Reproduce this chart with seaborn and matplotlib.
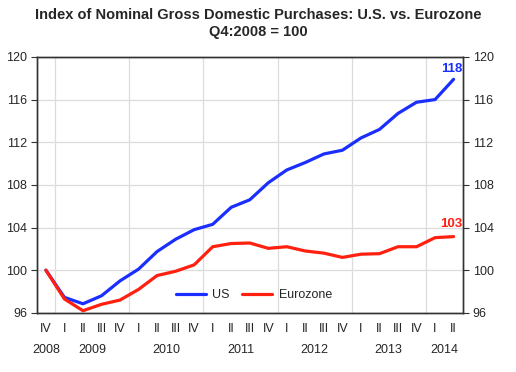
import numpy as np
import pandas as pd
import matplotlib
matplotlib.use("Agg")
import matplotlib.pyplot as plt
import seaborn as sns

# Datos (Q4:2008 = 100)
quarters = ["IV",
            "I", "II", "III", "IV",
            "I", "II", "III", "IV",
            "I", "II", "III", "IV",
            "I", "II", "III", "IV",
            "I", "II", "III", "IV",
            "I", "II"]
years = ["2008", "2009", "2010", "2011", "2012", "2013", "2014"]
year_pos = [0, 2.5, 6.5, 10.5, 14.5, 18.5, 21.5]

us = [100.0, 97.45, 96.85, 97.6, 99.0, 100.1, 101.75, 102.9, 103.8, 104.3, 105.9, 106.6,
      108.2, 109.4, 110.1, 110.9, 111.25, 112.4, 113.2, 114.7, 115.75, 116.0, 117.9]
eurozone = [100.0, 97.3, 96.2, 96.8, 97.2, 98.2, 99.5, 99.9, 100.5, 102.2, 102.5, 102.55,
            102.05, 102.2, 101.8, 101.6, 101.2, 101.5, 101.55, 102.2, 102.2, 103.05, 103.15]

df = pd.DataFrame({"t": np.arange(len(quarters)), "US": us, "Eurozone": eurozone})
long = df.melt(id_vars="t", var_name="serie", value_name="valor")

sns.set_style("white")
plt.rcParams["font.family"] = ["Liberation Sans", "DejaVu Sans"]

fig = plt.figure(figsize=(5.16, 3.72), dpi=100)
ax = fig.add_axes([0.071, 0.159, 0.826, 0.688])

sns.lineplot(data=long, x="t", y="valor", hue="serie",
             palette={"US": "#1a2eff", "Eurozone": "#ff2010"},
             linewidth=2.3, ax=ax)

ax.set_xlim(-0.5, 22.5)
ax.set_ylim(96, 120)
ax.set_yticks([96, 100, 104, 108, 112, 116, 120])
ax.set_xlabel("")
ax.set_ylabel("")

# Rejilla
ax.yaxis.grid(True, color="#dcdcdc", linewidth=0.9)
for x in [0.5, 4.5, 8.5, 12.5, 16.5, 20.5]:
    ax.axvline(x, color="#dcdcdc", linewidth=0.9, zorder=0)

# Ejes X: trimestres y años
ax.set_xticks(range(len(quarters)))
ax.set_xticklabels(quarters, fontsize=9)
ax.set_xticks(np.arange(-0.5, 23, 1), minor=True)
ax.tick_params(axis="x", which="major", length=0, pad=7)
ax.tick_params(axis="x", which="minor", length=4, direction="out", color="#333333")
for pos, yr in zip(year_pos, years):
    ax.text(pos, -0.145, yr, transform=ax.get_xaxis_transform(),
            ha="center", va="center", fontsize=9)

ax.tick_params(axis="y", which="major", length=4, direction="out", labelsize=9,
               left=True, color="#333333", pad=3)

ax2 = ax.twinx()
ax2.set_ylim(96, 120)
ax2.set_yticks([96, 100, 104, 108, 112, 116, 120])
ax2.tick_params(axis="y", length=4, direction="out", labelsize=9, color="#333333", pad=3)

for a in (ax, ax2):
    for s in a.spines.values():
        s.set_color("#333333")
        s.set_linewidth(1.0)

# Etiquetas de los últimos valores
ax.text(21.9, 118.9, "118", color="#1a2eff", fontsize=9.5, fontweight="bold",
        ha="center", va="center")
ax.text(21.9, 104.35, "103", color="#ff2010", fontsize=9.5, fontweight="bold",
        ha="center", va="center")

leg = ax.legend(loc="center", bbox_to_anchor=(0.51, 0.07), ncol=2, frameon=False,
                fontsize=9, handlelength=2.4, columnspacing=1.0, handletextpad=0.5)
leg.set_title(None)

fig.suptitle("Index of Nominal Gross Domestic Purchases: U.S. vs. Eurozone\nQ4:2008 = 100",
             fontsize=10.5, fontweight="bold", y=0.978, linespacing=1.25)

fig.savefig("out.png", dpi=100)
